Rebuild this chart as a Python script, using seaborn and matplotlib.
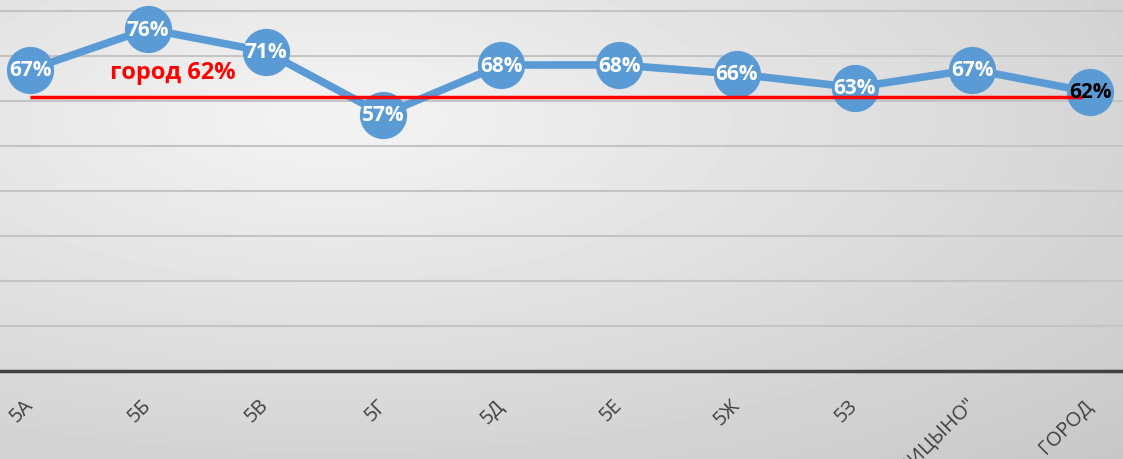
import numpy as np
import pandas as pd
import seaborn as sns
from matplotlib import pyplot as plt

# data
classes = ["5А", "5Б", "5В", "5Г", "5Д", "5Е", "5Ж", "5З",
           'СОШ "ГОЛИЦЫНО"', "ГОРОД"]
scores = [67, 76, 71, 57, 68, 68, 66, 63, 67, 62]
city_level = 61
city_label = "город 62%"
y_ticks = [0, 10, 20, 30, 40, 50, 60, 70, 80]

sns.set_style("white")
plt.rcParams["font.family"] = ["Open Sans", "DejaVu Sans"]

df = pd.DataFrame({"class": classes, "score": scores})
df["pos"] = range(len(df))

fig = plt.figure(figsize=(11.23, 4.6), dpi=100)

# soft radial grey background
bg = fig.add_axes([0, 0, 1, 1], zorder=-1)
yy, xx = np.mgrid[0:460, 0:1123]
dist = np.sqrt(((xx - 330) / 1123) ** 2 + ((yy - 120) / 460) ** 2)
shade = 0.955 - 0.17 * dist
bg.imshow(shade, cmap="gray", vmin=0, vmax=1, aspect="auto",
          extent=[0, 1, 0, 1], origin="upper")
bg.axis("off")

ax = fig.add_axes([0, 88 / 460, 1, 372 / 460])
ax.set_zorder(1)
ax.patch.set_alpha(0)

sns.lineplot(data=df, x="pos", y="score", ax=ax, sort=False,
             color="#5b9bd5", linewidth=5.5, marker="o", markersize=34,
             markeredgewidth=0, zorder=3)

ax.hlines(city_level, 0, len(df) - 1.07, color="#ff0000", linewidth=2.5,
          zorder=4)
ax.text(0.68, 66.5, city_label, color="#ff0000", fontsize=17,
        fontweight="bold", va="center", ha="left", zorder=5)

for i, (x, y) in enumerate(zip(df["pos"], df["score"])):
    ax.text(x, y, f"{y}%", ha="center", va="center", fontsize=15,
            fontweight="bold", zorder=6,
            color="black" if i == len(df) - 1 else "white")

ax.set_xlim(-0.255, 9.278)
ax.set_ylim(0, 372 / 4.5)
ax.set_yticks(y_ticks)
ax.set_yticklabels([])
ax.grid(axis="y", color="#c4c4c4", linewidth=1.5, zorder=1)
ax.set_xticks(df["pos"])
ax.set_xticklabels(df["class"], rotation=45, ha="right", va="center",
                   rotation_mode="anchor", fontsize=14.5, color="#404040")
ax.tick_params(axis="x", length=0, pad=22)
ax.tick_params(axis="y", length=0)
ax.set_xlabel("")
ax.set_ylabel("")

for side in ["left", "right", "top"]:
    ax.spines[side].set_visible(False)
ax.spines["bottom"].set_color("#404040")
ax.spines["bottom"].set_linewidth(2.5)

fig.savefig("out.png", dpi=100)
